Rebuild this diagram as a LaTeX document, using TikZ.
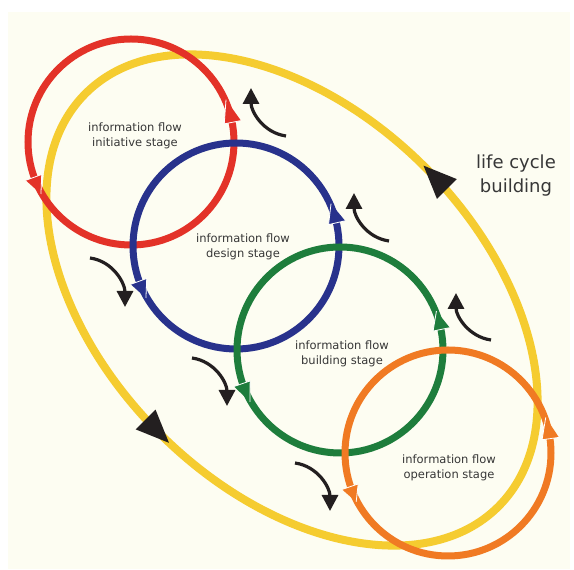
\documentclass[tikz,border=0pt]{standalone}
\usepackage{fontspec}
\setmainfont{DejaVu Sans}
\usetikzlibrary{arrows.meta}
\definecolor{cRed}{RGB}{227,50,40}
\definecolor{cBlue}{RGB}{40,50,140}
\definecolor{cGreen}{RGB}{30,125,60}
\definecolor{cOrange}{RGB}{240,122,35}
\definecolor{cYellow}{RGB}{245,204,48}
\definecolor{cBlack}{RGB}{35,31,32}
\definecolor{cCream}{RGB}{253,253,242}
\definecolor{cText}{RGB}{55,55,55}
\tikzset{
  ring/.style={line width=7pt},
  flowarrow/.style={draw=cBlack, line width=3.2pt, -{Triangle[length=16pt,width=16pt]}},
  stagelabel/.style={align=center, text=cText, font=\fontsize{11.5}{15.5}\selectfont, inner sep=0pt},
  cyclelabel/.style={align=center, text=cText, font=\fontsize{18}{24}\selectfont, inner sep=0pt},
}
% #1 centre, #2 colour, #3 base angle, #4 apex angle
\newcommand{\RingArrow}[4]{%
  \begin{scope}[shift={#1}]
    \fill[#2] (#4:104) -- (#3:95) -- (#3:112) -- cycle;
    \draw[white, line width=0.8pt, line join=round] (#3:112) -- (#3:95) -- (#4:104);
  \end{scope}}
\begin{document}
\begin{tikzpicture}[x=1pt,y=1pt]
\useasboundingbox (0,0) rectangle (574,570);
\fill[cCream] (8,1) rectangle (570,558);

% life cycle ellipse
\begin{scope}[shift={(292,270)}, rotate=-45]
  \draw[cYellow, line width=8pt] (0,0) ellipse [x radius=292pt, y radius=188pt];
  \fill[cBlack] (-2,188) -- (31,174) -- (31,202) -- cycle;
  \fill[cBlack] (14,-188) -- (-19,-174) -- (-19,-202) -- cycle;
\end{scope}

% stage rings
\coordinate (cR) at (131,428);
\coordinate (cB) at (236,324);
\coordinate (cG) at (340,220);
\coordinate (cO) at (448,117);

\draw[cRed, ring] (cR) circle [radius=103pt];
\RingArrow{(131,428)}{cRed}{11}{24}
\RingArrow{(131,428)}{cRed}{200}{210}

\draw[cBlue, ring] (cB) circle [radius=103pt];
\RingArrow{(236,324)}{cBlue}{13}{24}
\RingArrow{(236,324)}{cBlue}{200}{210}

\draw[cGreen, ring] (cG) circle [radius=103pt];
\RingArrow{(340,220)}{cGreen}{11.5}{22}
\RingArrow{(340,220)}{cGreen}{199}{210}

\draw[cOrange, ring] (cO) circle [radius=103pt];
\RingArrow{(448,117)}{cOrange}{8}{20}
\RingArrow{(448,117)}{cOrange}{199}{208}

% labels
\node[stagelabel] (tInit) at (135,434) {information flow\\initiative stage};
\node[stagelabel] (tDes) at (243,323) {information flow\\design stage};
\node[stagelabel] (tBuild) at (342,216) {information flow\\building stage};
\node[stagelabel] (tOper) at (449,102) {information flow\\operation stage};
\node[cyclelabel] (tLife) at (516,394) {life cycle\\building};

% black flow arrows
\coordinate (u1s) at (286,434); \coordinate (u1e) at (251,482);
\coordinate (u2s) at (389,329); \coordinate (u2e) at (354,377);
\coordinate (u3s) at (491,230); \coordinate (u3e) at (456,277);
\coordinate (d1s) at (90,312);  \coordinate (d1e) at (125,263);
\coordinate (d2s) at (192,212); \coordinate (d2e) at (227,164);
\coordinate (d3s) at (295,107); \coordinate (d3e) at (330,59);

\draw[flowarrow] (u1s) to[out=172,in=-90] (u1e);
\draw[flowarrow] (u2s) to[out=172,in=-90] (u2e);
\draw[flowarrow] (u3s) to[out=172,in=-90] (u3e);
\draw[flowarrow] (d1s) to[out=-8,in=90] (d1e);
\draw[flowarrow] (d2s) to[out=-8,in=90] (d2e);
\draw[flowarrow] (d3s) to[out=-8,in=90] (d3e);
\end{tikzpicture}
\end{document}
